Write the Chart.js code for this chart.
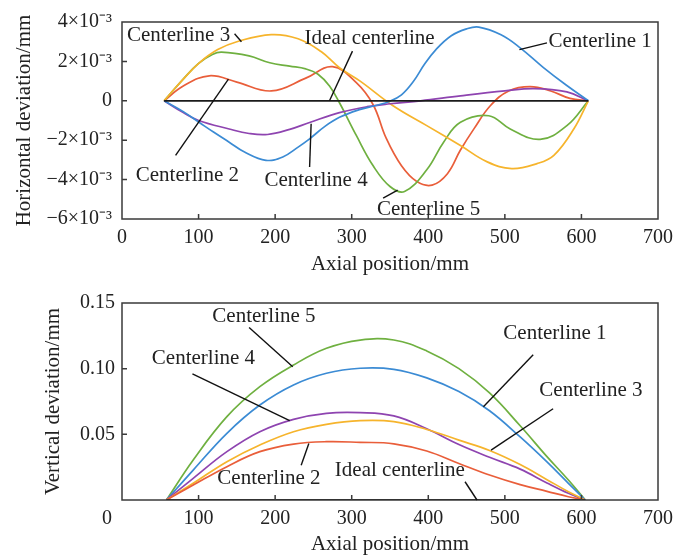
<!DOCTYPE html>
<html>
<head>
<meta charset="utf-8">
<title>Centerline deviation</title>
<script src="https://cdn.jsdelivr.net/npm/chart.js@4.4.0/dist/chart.umd.min.js"></script>
<style>
  body { margin: 0; background: #fff; }
  canvas { display: block; }
</style>
</head>
<body>
<canvas id="hChart" width="689" height="280"></canvas>
<canvas id="vChart" width="689" height="277"></canvas>
<script>
// Horizontal deviation, values in 10^-3 mm
const hIdealPos = [55, 609];
const hIdealDev = [0, 0];
const h1Pos = [55, 80, 101, 120, 140, 160, 188, 210, 230, 245, 265, 284, 310, 330, 350, 365, 380, 395, 410, 430, 450, 466, 495, 520, 550, 580, 609];
const h1Dev = [0, -0.55, -1.1, -1.6, -2.1, -2.6, -3.02, -2.85, -2.35, -1.93, -1.3, -0.84, -0.45, -0.25, -0.02, 0.3, 0.95, 1.85, 2.6, 3.3, 3.65, 3.74, 3.35, 2.69, 1.7, 0.8, 0];
const h2Pos = [55, 80, 114, 150, 195, 240, 275, 306, 328, 345, 365, 385, 405, 425, 442, 460, 481, 505, 533, 560, 585, 609];
const h2Dev = [0, 0.75, 1.27, 0.95, 0.5, 1.15, 1.73, 0.92, -0.2, -1.9, -3.3, -4.1, -4.28, -3.7, -2.5, -1.4, -0.25, 0.5, 0.72, 0.5, 0.12, 0];
const h3Pos = [55, 80, 101, 125, 150, 195, 230, 260, 284, 311, 354, 398, 442, 477, 509, 542, 564, 590, 609];
const h3Dev = [0, 1.1, 1.93, 2.6, 3.0, 3.36, 3.15, 2.5, 1.68, 1.0, -0.25, -1.26, -2.27, -3.1, -3.44, -3.19, -2.77, -1.43, 0];
const h4Pos = [55, 80, 100, 140, 166, 190, 219, 245, 284, 320, 350, 390, 442, 500, 538, 581, 609];
const h4Dev = [0, -0.6, -1.0, -1.43, -1.66, -1.71, -1.45, -1.1, -0.6, -0.3, -0.15, 0.0, 0.25, 0.5, 0.62, 0.45, 0];
const h5Pos = [55, 80, 100, 118, 130, 166, 193, 219, 240, 256, 271, 284, 306, 328, 350, 369, 398, 420, 442, 479, 507, 546, 581, 609];
const h5Dev = [0, 1.1, 1.9, 2.35, 2.47, 2.28, 1.93, 1.76, 1.62, 1.35, 0.75, -0.1, -1.76, -3.3, -4.35, -4.6, -3.5, -2.1, -1.09, -0.76, -1.43, -1.96, -1.26, 0];

// Vertical deviation, values in mm, all curves sampled at the same positions
const vIdealPos = [58, 605];
const vIdealDev = [0, 0];
const vPos = [58, 93, 137, 180, 224, 267, 311, 355, 398, 440, 480, 520, 555, 583, 605];
const v1Dev = [0, 0.0228, 0.0508, 0.0723, 0.0876, 0.0965, 0.1003, 0.0995, 0.093, 0.0826, 0.068, 0.048, 0.029, 0.0127, 0];
const v2Dev = [0, 0.0114, 0.0254, 0.0368, 0.0426, 0.0444, 0.0439, 0.0428, 0.0373, 0.0278, 0.019, 0.0117, 0.0066, 0.0025, 0];
const v3Dev = [0, 0.0127, 0.0292, 0.0419, 0.052, 0.0576, 0.0604, 0.0597, 0.0537, 0.0456, 0.0377, 0.027, 0.0155, 0.0063, 0];
const v4Dev = [0, 0.0165, 0.0368, 0.052, 0.0614, 0.066, 0.0665, 0.064, 0.0542, 0.0422, 0.0325, 0.0235, 0.013, 0.0051, 0];
const v5Dev = [0, 0.0305, 0.0635, 0.0863, 0.1028, 0.1155, 0.1218, 0.1218, 0.1135, 0.1, 0.0815, 0.0565, 0.033, 0.0152, 0];

const axialTicks = [0, 100, 200, 300, 400, 500, 600, 700];

const colors = {
  ideal: '#1a1a1a',
  c1: '#3b8bd4',
  c2: '#e95e3a',
  c3: '#f6b42c',
  c4: '#8e44b0',
  c5: '#6fb040'
};

const serif = "'Liberation Serif', 'Times New Roman', serif";
const tickFont = { family: serif, size: 20 };
const titleFont = { family: serif, size: 21 };
const ink = '#222';

const toPoints = (xs, ys) => xs.map((x, i) => ({ x: x, y: ys[i] }));

function line(label, xs, ys, color, width) {
  return {
    label: label,
    data: toPoints(xs, ys),
    borderColor: color,
    borderWidth: width || 1.7,
    pointRadius: 0,
    fill: false,
    tension: 0.4
  };
}

// box round the plot area plus short inward tick marks
const framePlugin = {
  id: 'frame',
  afterDraw(chart) {
    const { ctx, chartArea: a, scales } = chart;
    ctx.save();
    ctx.strokeStyle = '#3a3a3a';
    ctx.lineWidth = 1.5;
    ctx.strokeRect(a.left, a.top, a.right - a.left, a.bottom - a.top);
    ctx.beginPath();
    scales.x.ticks.forEach(t => {
      if (t.value <= scales.x.min || t.value >= scales.x.max) return;
      const px = scales.x.getPixelForValue(t.value);
      ctx.moveTo(px, a.bottom);
      ctx.lineTo(px, a.bottom - 5);
    });
    scales.y.ticks.forEach(t => {
      if (t.value <= scales.y.min || t.value >= scales.y.max) return;
      const py = scales.y.getPixelForValue(t.value);
      ctx.moveTo(a.left, py);
      ctx.lineTo(a.left + 5, py);
    });
    ctx.stroke();
    ctx.restore();
  }
};

// curve labels with leader lines, positioned in data units
const notesPlugin = {
  id: 'notes',
  afterDraw(chart, args, opts) {
    const { ctx, scales } = chart;
    const sx = v => scales.x.getPixelForValue(v);
    const sy = v => scales.y.getPixelForValue(v);
    ctx.save();
    ctx.font = '21px ' + serif;
    ctx.fillStyle = ink;
    ctx.strokeStyle = '#111';
    ctx.lineWidth = 1.4;
    ctx.textAlign = 'left';
    ctx.textBaseline = 'middle';
    (opts.items || []).forEach(n => {
      ctx.beginPath();
      ctx.moveTo(sx(n.line[0][0]), sy(n.line[0][1]));
      ctx.lineTo(sx(n.line[1][0]), sy(n.line[1][1]));
      ctx.stroke();
      ctx.fillText(n.text, sx(n.at[0]), sy(n.at[1]));
    });
    if (opts.originLabel) {
      ctx.font = '20px ' + serif;
      ctx.textAlign = 'center';
      ctx.fillText('0', sx(0) - 15, scales.x.top + 7 + 12);
    }
    ctx.restore();
  }
};

function axialScale(titlePad, height, showZero) {
  return {
    type: 'linear',
    min: 0,
    max: 700,
    afterBuildTicks: s => { s.ticks = axialTicks.map(v => ({ value: v })); },
    ticks: {
      font: tickFont,
      color: ink,
      padding: 7,
      maxRotation: 0,
      callback: v => (v === 0 && !showZero) ? '' : String(v)
    },
    grid: { display: false, drawTicks: false },
    border: { display: false },
    title: { display: true, text: 'Axial position/mm', font: titleFont, color: ink, padding: { top: 0, bottom: titlePad } },
    afterFit: s => { s.height = height; }
  };
}

new Chart(document.getElementById('hChart'), {
  type: 'line',
  data: {
    datasets: [
      line('Ideal centerline', hIdealPos, hIdealDev, colors.ideal, 1.8),
      line('Centerline 1', h1Pos, h1Dev, colors.c1),
      line('Centerline 4', h4Pos, h4Dev, colors.c4),
      line('Centerline 3', h3Pos, h3Dev, colors.c3),
      line('Centerline 5', h5Pos, h5Dev, colors.c5),
      line('Centerline 2', h2Pos, h2Dev, colors.c2)
    ]
  },
  options: {
    responsive: false,
    animation: false,
    layout: { padding: { top: 21, right: 31, left: 0, bottom: 0 } },
    plugins: {
      legend: { display: false },
      tooltip: { enabled: false },
      notes: {
        items: [
          { text: 'Centerline 3', at: [6.5, 3.32], line: [[147, 3.4], [156, 3.0]] },
          { text: 'Ideal centerline', at: [238.5, 3.17], line: [[301, 2.52], [271, 0]] },
          { text: 'Centerline 1', at: [557, 3.02], line: [[555, 2.94], [519, 2.6]] },
          { text: 'Centerline 2', at: [18, -3.78], line: [[70, -2.77], [139, 1.1]] },
          { text: 'Centerline 4', at: [186, -4.03], line: [[245, -3.36], [247, -1.17]] },
          { text: 'Centerline 5', at: [333, -5.54], line: [[341, -4.94], [360, -4.53]] }
        ]
      }
    },
    scales: {
      x: axialScale(3, 61, true),
      y: {
        min: -6,
        max: 4,
        ticks: {
          stepSize: 2,
          font: tickFont,
          color: ink,
          padding: 10,
          callback: v => v === 0 ? '0' : (v < 0 ? '\u2212' : '') + Math.abs(v) + '\u00d710\u207b\u00b3'
        },
        grid: { display: false, drawTicks: false },
        border: { display: false },
        title: { display: true, text: 'Horizontal deviation/mm', font: titleFont, color: ink, padding: { top: 12, bottom: 0 } },
        afterFit: s => { s.width = 122; }
      }
    }
  },
  plugins: [framePlugin, notesPlugin]
});

new Chart(document.getElementById('vChart'), {
  type: 'line',
  data: {
    datasets: [
      line('Ideal centerline', vIdealPos, vIdealDev, colors.ideal, 1.8),
      line('Centerline 2', vPos, v2Dev, colors.c2),
      line('Centerline 3', vPos, v3Dev, colors.c3),
      line('Centerline 4', vPos, v4Dev, colors.c4),
      line('Centerline 1', vPos, v1Dev, colors.c1),
      line('Centerline 5', vPos, v5Dev, colors.c5)
    ]
  },
  options: {
    responsive: false,
    animation: false,
    layout: { padding: { top: 23, right: 31, left: 0, bottom: 0 } },
    plugins: {
      legend: { display: false },
      tooltip: { enabled: false },
      notes: {
        originLabel: true,
        items: [
          { text: 'Centerline 5', at: [118, 0.140], line: [[166, 0.1313], [223, 0.1015]] },
          { text: 'Centerline 4', at: [39, 0.1076], line: [[92, 0.096], [219, 0.0605]] },
          { text: 'Centerline 1', at: [498, 0.1265], line: [[537, 0.1106], [472, 0.071]] },
          { text: 'Centerline 3', at: [545, 0.0833], line: [[563, 0.0695], [482, 0.038]] },
          { text: 'Centerline 2', at: [124.5, 0.0167], line: [[234, 0.0265], [244, 0.043]] },
          { text: 'Ideal centerline', at: [278, 0.0227], line: [[448, 0.0139], [463.6, 0]] }
        ]
      }
    },
    scales: {
      x: axialScale(0, 57, false),
      y: {
        min: 0,
        max: 0.15,
        ticks: {
          stepSize: 0.05,
          font: tickFont,
          color: ink,
          padding: 7,
          callback: v => v === 0 ? '' : v.toFixed(2)
        },
        grid: { display: false, drawTicks: false },
        border: { display: false },
        title: { display: true, text: 'Vertical deviation/mm', font: titleFont, color: ink, padding: { top: 41, bottom: 0 } },
        afterFit: s => { s.width = 122; }
      }
    }
  },
  plugins: [framePlugin, notesPlugin]
});
</script>
</body>
</html>
